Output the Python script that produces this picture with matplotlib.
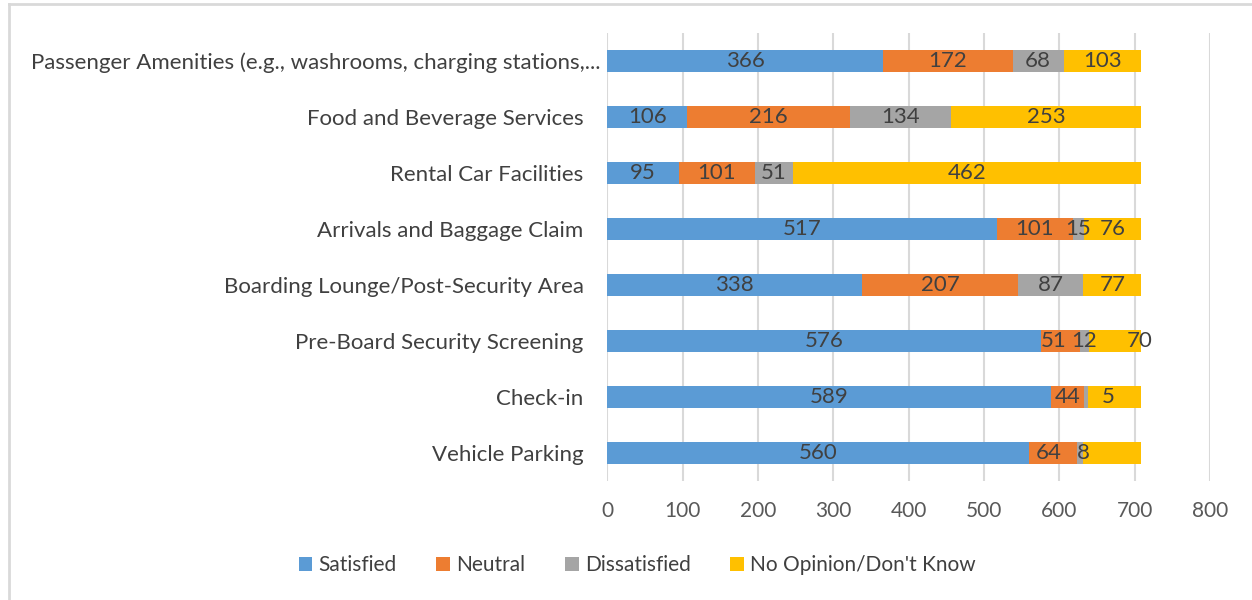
import numpy as np
import matplotlib.pyplot as plt
from matplotlib.lines import Line2D
from matplotlib.transforms import ScaledTranslation

plt.rcParams['font.family'] = ['Lato', 'DejaVu Sans']

# top to bottom, as in the chart
categories = [
    'Passenger Amenities (e.g., washrooms, charging stations,...',
    'Food and Beverage Services',
    'Rental Car Facilities',
    'Arrivals and Baggage Claim',
    'Boarding Lounge/Post-Security Area',
    'Pre-Board Security Screening',
    'Check-in',
    'Vehicle Parking',
]
series_names = ['Satisfied', 'Neutral', 'Dissatisfied', "No Opinion/Don't Know"]
satisfied = [366, 106, 95, 517, 338, 576, 589, 560]
neutral = [172, 216, 101, 101, 207, 51, 44, 64]
dissatisfied = [68, 134, 51, 15, 87, 12, 5, 8]
no_opinion = [103, 253, 462, 76, 77, 70, 71, 77]
# labels excel hid because they overlapped
hidden = {(6, 3), (7, 3)}
# labels excel pushed sideways (points)
nudge = {(6, 2): 16, (5, 3): 18, (5, 1): -5, (7, 1): -3, (7, 2): 2}

colors = ['#5B9BD5', '#ED7D31', '#A5A5A5', '#FFC000']

fig = plt.figure(figsize=(12.52, 6), dpi=100)
ax = fig.add_axes([0.485, 0.198, 0.4815, 0.747])

y = np.arange(len(categories))
left = np.zeros(len(categories))
for i, vals in enumerate([satisfied, neutral, dissatisfied, no_opinion]):
    vals = np.array(vals)
    ax.barh(y, vals, left=left, height=0.4, color=colors[i],
            label=series_names[i], zorder=3)
    for j, v in enumerate(vals):
        if (j, i) in hidden:
            continue
        ax.annotate(str(v), (left[j] + v / 2, y[j]),
                    xytext=(nudge.get((j, i), 0), 0), textcoords='offset points',
                    ha='center', va='center', fontsize=16, color='#404040', zorder=4)
    left = left + vals

ax.set_ylim(len(categories) - 0.5, -0.5)
ax.set_yticks(y)
ax.set_yticklabels(categories, fontsize=16, color='#404040')
ax.set_xlim(0, 800)
ax.set_xticks(np.arange(0, 801, 100))
ax.tick_params(axis='x', labelsize=15, labelcolor='#595959', length=0, pad=14)
ax.tick_params(axis='y', length=0, pad=17)
ax.grid(axis='x', color='#d9d9d9', linewidth=1.5, zorder=0)
for s in ax.spines.values():
    s.set_visible(False)

# the truncated first label sits closer to the bars
lab = ax.get_yticklabels()[0]
lab.set_transform(lab.get_transform() + ScaledTranslation(12 / 72, 0, fig.dpi_scale_trans))

fig.legend(loc='center', bbox_to_anchor=(0.509, 0.058), ncol=4, frameon=False,
           fontsize=15, handlelength=0.65, handleheight=0.65, handletextpad=0.3,
           columnspacing=1.9, labelcolor='#404040')

# chart frame (top and left edges visible)
fig.add_artist(Line2D([0.0072, 1], [0.9933, 0.9933], color='#d9d9d9', lw=2))
fig.add_artist(Line2D([0.0072, 0.0072], [0, 0.9933], color='#d9d9d9', lw=2))

fig.savefig('out.png', dpi=100)
